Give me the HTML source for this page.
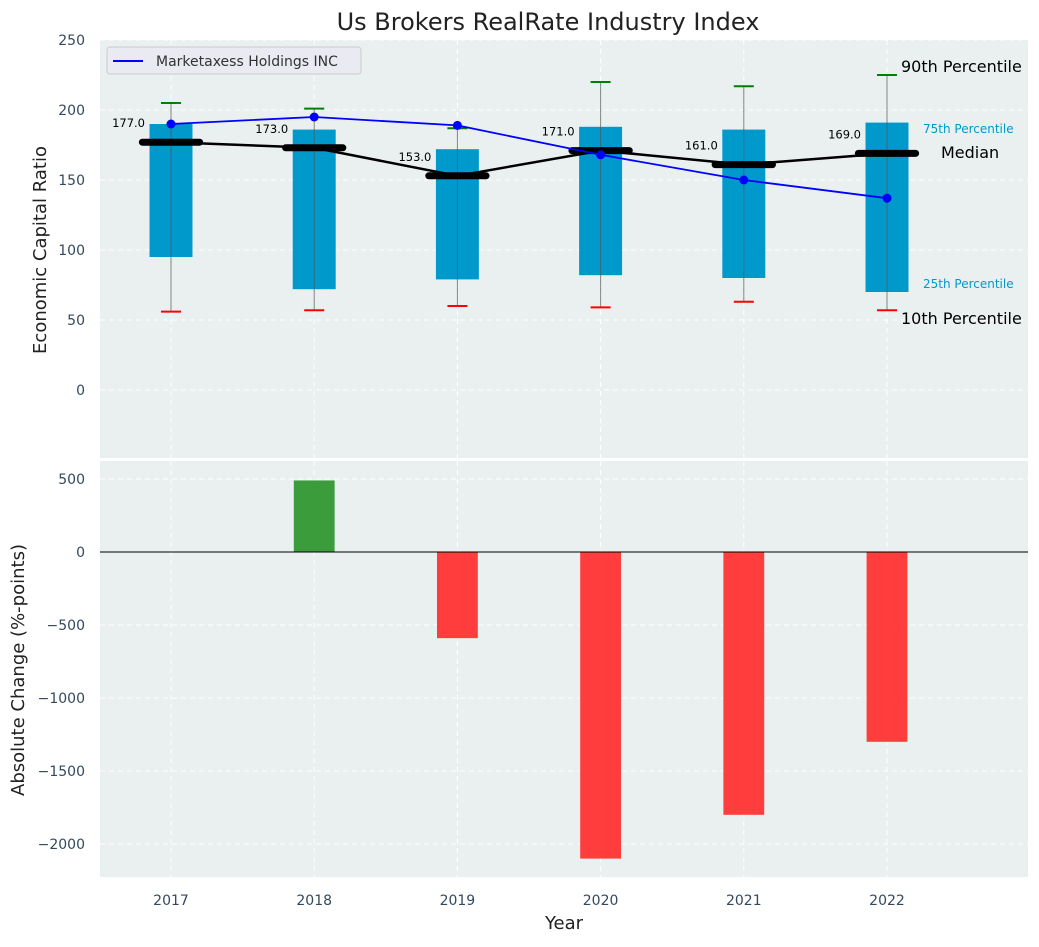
<!DOCTYPE html>
<html><head><meta charset="utf-8"><style>
body{margin:0;background:#fff;font-family:"Liberation Sans","DejaVu Sans",sans-serif}
</style></head><body>
<svg id="c" width="1039" height="942" xmlns="http://www.w3.org/2000/svg" font-family="DejaVu Sans, Liberation Sans, sans-serif"></svg>
<script>
const years=[2017,2018,2019,2020,2021,2022];
const p10=[56,57,60,59,63,57];
const p25=[95,72,79,82,80,70];
const medians=[177,173,153,171,161,169];
const p75=[190,186,172,188,186,191];
const p90=[205,201,187,220,217,225];
const company=[190,195,189,168,150,137];
const changes=[0,490,-590,-2100,-1800,-1300];
const topTicks=[0,50,100,150,200,250];
const botTicks=[-2000,-1500,-1000,-500,0,500];

const svg=document.getElementById('c');
const NS='http://www.w3.org/2000/svg';
function mk(t,a,p){const e=document.createElementNS(NS,t);for(const k in a)e.setAttribute(k,a[k]);(p||svg).appendChild(e);return e;}
const L=100,R=1028;
const PX=143.2;
const x=v=>171+(v-2017)*PX;
const yT=v=>390-v*1.4;
const yB=v=>552-v*0.146;
const xs=v=>v*PX;

let e=mk('rect',{x:L,y:40,width:R-L,height:418,fill:'#eaeff0'});

e=mk('rect',{x:L,y:461,width:R-L,height:416,fill:'#eaeff0'});


years.forEach(yr=>{
 mk('line',{x1:x(yr),x2:x(yr),y1:40,y2:458,stroke:'#fff','stroke-dasharray':'5,4','stroke-width':1});
 mk('line',{x1:x(yr),x2:x(yr),y1:461,y2:877,stroke:'#fff','stroke-dasharray':'5,4','stroke-width':1});
 e=mk('text',{x:x(yr),y:905,'text-anchor':'middle','font-size':14,fill:'#34495e'});e.textContent=yr;
 
});
topTicks.forEach(t=>{
 mk('line',{x1:L,x2:R,y1:yT(t),y2:yT(t),stroke:'#fff','stroke-dasharray':'5,4'});
 e=mk('text',{x:85,y:yT(t)+5,'text-anchor':'end','font-size':14,fill:'#34495e'});e.textContent=t;
 
});
botTicks.forEach(t=>{
 mk('line',{x1:L,x2:R,y1:yB(t),y2:yB(t),stroke:'#fff','stroke-dasharray':'5,4'});
 e=mk('text',{x:85,y:yB(t)+5,'text-anchor':'end','font-size':14,fill:'#34495e'});e.textContent=(t<0?'\u2212'+(-t):t);
 
});

years.forEach((yr,i)=>{
 const cx=x(yr),w=xs(0.3);
 e=mk('rect',{x:cx-w/2,y:yT(p75[i]),width:w,height:yT(p25[i])-yT(p75[i]),fill:'#0099cc'});
 
 e=mk('line',{x1:cx,x2:cx,y1:yT(p90[i]),y2:yT(p10[i]),stroke:'#555','stroke-width':1,opacity:0.7});
 
 e=mk('line',{x1:cx-10,x2:cx+10,y1:yT(p90[i]),y2:yT(p90[i]),stroke:'green','stroke-width':2});
 
 e=mk('line',{x1:cx-10,x2:cx+10,y1:yT(p10[i]),y2:yT(p10[i]),stroke:'red','stroke-width':2});
 
});
let d=years.map((yr,i)=>(i?'L':'M')+x(yr)+','+yT(medians[i])).join(' ');
e=mk('path',{d:d,fill:'none',stroke:'#000','stroke-width':2.5});

years.forEach((yr,i)=>{
 const cx=x(yr),w=xs(0.4);
 e=mk('line',{x1:cx-w/2,x2:cx+w/2,y1:yT(medians[i]),y2:yT(medians[i]),stroke:'#000','stroke-width':7,'stroke-linecap':'round'});
 
 e=mk('text',{x:cx-26,y:yT(medians[i])-15,'text-anchor':'end','font-size':11.5,fill:'#000'});e.textContent=medians[i].toFixed(1);
 
});
d=years.map((yr,i)=>(i?'L':'M')+x(yr)+','+yT(company[i])).join(' ');
e=mk('path',{d:d,fill:'none',stroke:'blue','stroke-width':1.8});

years.forEach((yr,i)=>{
 e=mk('circle',{cx:x(yr),cy:yT(company[i]),r:4.5,fill:'blue'});
 
});
const ann=[['90th Percentile',901,72,16,'#000'],['75th Percentile',923,133,12,'#0099cc'],['Median',941,158,16,'#000'],['25th Percentile',923,288,12,'#0099cc'],['10th Percentile',901,324,16,'#000']];
ann.forEach(a=>{e=mk('text',{x:a[1],y:a[2],'font-size':a[3],fill:a[4]});e.textContent=a[0];
 });

const lg=mk('g',{});
mk('rect',{x:107,y:47,width:254,height:27,rx:3,fill:'#eaeaf2',stroke:'#ccc'},lg);
mk('line',{x1:113,x2:143,y1:61,y2:61,stroke:'blue','stroke-width':2},lg);
e=mk('text',{x:156,y:66,'font-size':14,fill:'#333'},lg);e.textContent='Marketaxess Holdings INC';

years.forEach((yr,i)=>{
 const v=changes[i];if(v===0)return;const w=xs(0.285);
 e=mk('rect',{x:x(yr)-w/2,y:Math.min(yB(v),yB(0)),width:w,height:Math.abs(yB(v)-yB(0)),fill:v>0?'#3a9c3a':'#ff3d3d'});
 
});
mk('line',{x1:L,x2:R,y1:yB(0),y2:yB(0),stroke:'#000','stroke-width':1});

e=mk('text',{x:548,y:30,'text-anchor':'middle','font-size':24,fill:'#222'});e.textContent='Us Brokers RealRate Industry Index';

e=mk('text',{x:46,y:250,'text-anchor':'middle','font-size':18,fill:'#222',transform:'rotate(-90 46 250)'});e.textContent='Economic Capital Ratio';

e=mk('text',{x:24,y:670,'text-anchor':'middle','font-size':18,fill:'#222',transform:'rotate(-90 24 670)'});e.textContent='Absolute Change (%-points)';

e=mk('text',{x:564,y:929,'text-anchor':'middle','font-size':18,fill:'#222'});e.textContent='Year';

</script>
</body></html>
